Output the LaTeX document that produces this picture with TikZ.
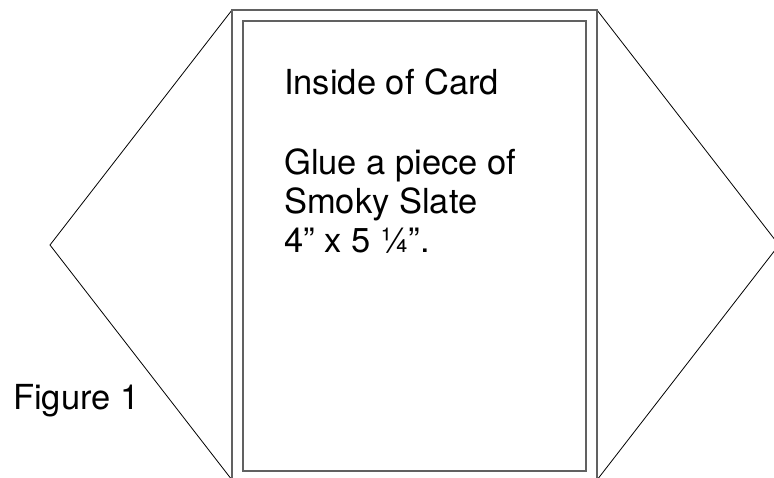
\documentclass[tikz,border=0pt]{standalone}
\usepackage{fontspec}
\setmainfont{TeX Gyre Heros}
\begin{document}
\begin{tikzpicture}[x=1pt,y=-1pt,
  cardline/.style={draw=black!62,line width=1.3pt},
  flapline/.style={draw=black,line width=0.8pt},
  lbl/.style={anchor=base west,inner sep=0pt,font=\fontsize{34.5}{39}\selectfont}]
\useasboundingbox (0,0) rectangle (774,478);
\clip (0,0) rectangle (774,478);
% corners
\coordinate (otl) at (232,10);
\coordinate (otr) at (597,10);
\coordinate (obl) at (232,480);
\coordinate (obr) at (597,480);
\coordinate (lapex) at (50,245);
\coordinate (rapex) at (779,245);
% flaps
\draw[flapline] (otl) -- (lapex) -- (obl);
\draw[flapline] (otr) -- (rapex) -- (obr);
% card
\draw[cardline] (obl) -- (otl) -- (otr) -- (obr);
\draw[cardline] (243,21) rectangle (586,471);
% texts
\node[lbl] (t1) at (284,95) {Inside of Card};
\node[lbl] (t2) at (284,175) {Glue a piece of};
\node[lbl] (t3) at (284,214) {Smoky Slate};
\node[lbl] (t4) at (284,253) {4” x 5 ¼”.};
\node[lbl] (fig) at (13,409) {Figure 1};
\end{tikzpicture}
\end{document}
